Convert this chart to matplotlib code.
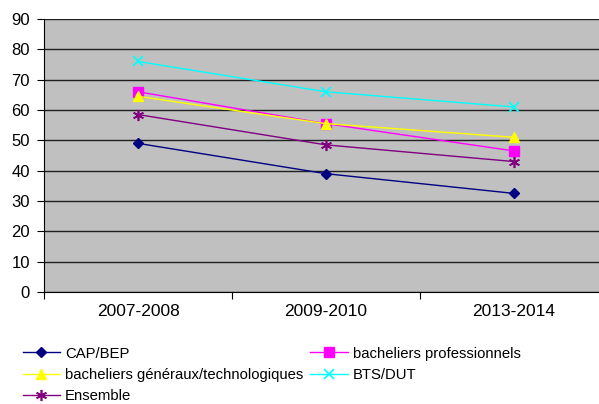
import matplotlib.pyplot as plt

plt.rcParams['font.family'] = ['Liberation Sans', 'DejaVu Sans']

# données
annees = ['2007-2008', '2009-2010', '2013-2014']
cap_bep = [49, 39, 32.5]
bac_pro = [66, 55.5, 46.5]
bac_gen = [64.5, 55.5, 51]
bts_dut = [76, 66, 61]
ensemble = [58.5, 48.5, 43]

fig = plt.figure(figsize=(5.99, 4.04), dpi=100)
ax = fig.add_axes([44 / 599, 112 / 404, 564 / 599, 273 / 404])
ax.set_facecolor('#C0C0C0')

x = range(len(annees))
l1, = ax.plot(x, cap_bep, color='#000080', marker='D', ms=5.5, lw=1, label='CAP/BEP')
l2, = ax.plot(x, bac_pro, color='#FF00FF', marker='s', ms=6.5, lw=1, label='bacheliers professionnels')
l3, = ax.plot(x, bac_gen, color='#FFFF00', marker='^', ms=7.5, lw=1, label='bacheliers généraux/technologiques')
l4, = ax.plot(x, bts_dut, color='#00FFFF', marker='x', ms=7, mew=1.2, lw=1, label='BTS/DUT')
l5, = ax.plot(x, ensemble, color='#800080', marker=(6, 2, 0), ms=8, mew=1.2, lw=1, label='Ensemble')

ax.set_xlim(-0.5, 2.5)
ax.set_ylim(0, 90)
ax.set_yticks(range(0, 91, 10))
ax.set_xticks([-0.5, 0.5, 1.5, 2.5])
ax.set_xticklabels([])
ax.set_xticks(list(x), annees, minor=True)
ax.tick_params(axis='x', which='minor', length=0, pad=9, labelsize=12.5)
ax.tick_params(axis='x', which='major', length=5, color='black', direction='out')
ax.tick_params(axis='y', length=5, labelsize=12, pad=5)
ax.grid(axis='y', color='#202020', lw=1)
ax.set_axisbelow(True)
for s in ['top', 'right']:
    ax.spines[s].set_visible(False)
for s in ['left', 'bottom']:
    ax.spines[s].set_color('black')

fig.legend([l1, l3, l5, l2, l4],
           [h.get_label() for h in [l1, l3, l5, l2, l4]],
           ncol=2, loc='upper left', bbox_to_anchor=(0.038, 0.142),
           frameon=False, fontsize=10.7, handlelength=2.5, handletextpad=0.33,
           columnspacing=0.5, labelspacing=0.5, borderaxespad=0, borderpad=0)

fig.savefig('out.png', dpi=100)
